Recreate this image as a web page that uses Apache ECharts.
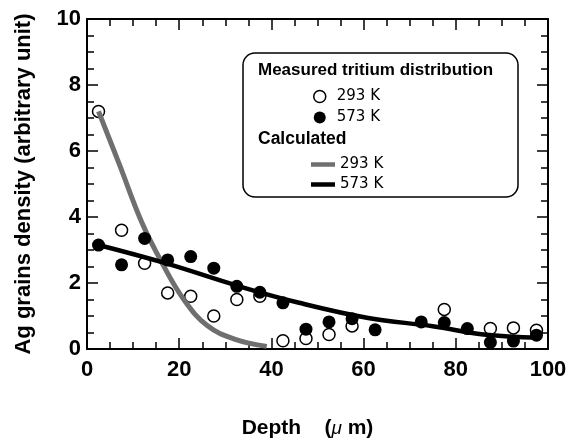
<!DOCTYPE html>
<html>
<head>
<meta charset="utf-8">
<script src="https://cdn.jsdelivr.net/npm/echarts@6/dist/echarts.min.js"></script>
<style>html,body{margin:0;padding:0;background:#fff}#c{width:571px;height:444px}</style>
</head>
<body>
<div id="c"></div>
<script>
// Measured tritium distribution, 293 K (open circles)
const measured293 = [[2.5,7.2],[7.5,3.6],[12.5,2.6],[17.5,1.7],[22.5,1.6],[27.5,1.0],[32.5,1.5],[37.5,1.6],[42.5,0.25],[47.5,0.32],[52.5,0.44],[57.5,0.7],[77.5,1.2],[87.5,0.62],[92.5,0.64],[97.5,0.57]];
// Measured tritium distribution, 573 K (filled circles)
const measured573 = [[2.5,3.15],[7.5,2.55],[12.5,3.35],[17.5,2.7],[22.5,2.8],[27.5,2.45],[32.5,1.9],[37.5,1.72],[42.5,1.4],[47.5,0.6],[52.5,0.82],[57.5,0.92],[62.5,0.58],[72.5,0.82],[77.5,0.8],[82.5,0.62],[87.5,0.2],[92.5,0.24],[97.5,0.42]];
// Calculated curves
const calc293 = [[2.5,7.2],[7,5.6],[12,3.8],[16.5,2.55],[21,1.5],[26,0.72],[32,0.3],[39,0.08]];
const calc573 = [[2.5,3.15],[17,2.6],[33,1.9],[46,1.4],[61,0.94],[75,0.69],[86,0.44],[98,0.34]];
const xTicks = [0,20,40,60,80,100];
const yTicks = [0,2,4,6,8,10];

const chart = echarts.init(document.getElementById('c'), null, {renderer:'canvas'});
const F = '"Liberation Sans", Arial, Helvetica, sans-serif';
const axisCommon = {
  axisLine:{show:true, onZero:false, lineStyle:{color:'#000', width:2}},
  axisTick:{show:true, inside:true, length:11, lineStyle:{color:'#000', width:1.5}},
  minorTick:{show:true, splitNumber:4, length:7, lineStyle:{color:'#000', width:1.5}},
  splitLine:{show:false}
};
const nameMap = {m293:'293 K', m573:'573 K', c293:'293 K', c573:'573 K'};
chart.setOption({
  animation:false,
  backgroundColor:'#fff',
  grid:{left:87, right:23, top:19, bottom:91, containLabel:false},
  xAxis:[
    Object.assign({type:'value', position:'bottom', min:0, max:100, interval:20,
      axisLabel:{show:true, margin:10, color:'#000', fontFamily:F, fontWeight:'bold', fontSize:22,
        formatter:v=>xTicks.includes(v)?String(v):''},
      name:'{b|Depth}{s|    (}{m|μ}{b| m)}{e| }', nameLocation:'middle', nameGap:69,
      nameTextStyle:{rich:{
        b:{fontFamily:F, fontWeight:'bold', fontSize:21, color:'#000'},
        s:{fontFamily:F, fontWeight:'bold', fontSize:21, color:'#000'},
        m:{fontFamily:F, fontStyle:'italic', fontSize:19, color:'#000'},
        e:{fontFamily:F, fontSize:21, width:20}
      }}
    }, axisCommon),
    Object.assign({type:'value', position:'top', min:0, max:100, interval:20, axisLabel:{show:false}}, axisCommon)
  ],
  yAxis:[
    Object.assign({type:'value', position:'left', min:0, max:10, interval:2,
      axisLabel:{show:true, margin:6, color:'#000', fontFamily:F, fontWeight:'bold', fontSize:22,
        formatter:v=>yTicks.includes(v)?String(v):''},
      name:'Ag grains density (arbitrary unit)', nameLocation:'middle', nameGap:52,
      nameTextStyle:{fontFamily:F, fontWeight:'bold', fontSize:22, color:'#000'}
    }, axisCommon),
    Object.assign({type:'value', position:'right', min:0, max:10, interval:2, axisLabel:{show:false}}, axisCommon)
  ],
  graphic:[
    {type:'rect', z:1, shape:{x:243, y:53, width:275, height:144, r:12},
      style:{fill:'#fff', stroke:'#000', lineWidth:1.5}},
    {type:'text', z:2, left:258, top:62, style:{text:'Measured tritium distribution', fill:'#000',
      font:'bold 17px '+F}},
    {type:'text', z:2, left:258, top:130, style:{text:'Calculated', fill:'#000',
      font:'bold 17.5px '+F}}
  ],
  legend:[
    {z:5, left:308, top:84, orient:'vertical', itemGap:6, itemWidth:12, itemHeight:12,
      formatter:n=>nameMap[n],
      textStyle:{fontFamily:'"DejaVu Sans", sans-serif', fontSize:15, color:'#000', padding:[0,0,0,6]},
      data:[
        {name:'m293', icon:'circle', itemStyle:{color:'#fff', borderColor:'#000', borderWidth:1.5, opacity:1}},
        {name:'m573', icon:'circle', itemStyle:{color:'#000', borderWidth:0, opacity:1}}
      ]},
    {z:5, left:306, top:152, orient:'vertical', itemGap:5, itemWidth:24, itemHeight:14,
      formatter:n=>nameMap[n],
      textStyle:{fontFamily:'"DejaVu Sans", sans-serif', fontSize:15, color:'#000'},
      data:[
        {name:'c293', icon:'path://M0 0L24 0L24 4.5L0 4.5Z', itemStyle:{color:'#6f6f6f', borderWidth:0}},
        {name:'c573', icon:'path://M0 0L24 0L24 4.5L0 4.5Z', itemStyle:{color:'#000', borderWidth:0}}
      ]}
  ],
  series:[
    {name:'m293', type:'scatter', z:2, data:measured293, symbol:'circle', symbolSize:12,
      itemStyle:{color:'#fff', borderColor:'#000', borderWidth:1.5, opacity:1}},
    {name:'c293', type:'line', z:3, data:calc293, smooth:0.4, symbol:'none', showSymbol:false,
      itemStyle:{color:'#6f6f6f'}, lineStyle:{color:'#6f6f6f', width:5}},
    {name:'c573', type:'line', z:3, data:calc573, smooth:0.4, symbol:'none', showSymbol:false,
      itemStyle:{color:'#000'}, lineStyle:{color:'#000', width:4.5}},
    {name:'m573', type:'scatter', z:4, data:measured573, symbol:'circle', symbolSize:13,
      itemStyle:{color:'#000', opacity:1}}
  ]
});
</script>
</body>
</html>
